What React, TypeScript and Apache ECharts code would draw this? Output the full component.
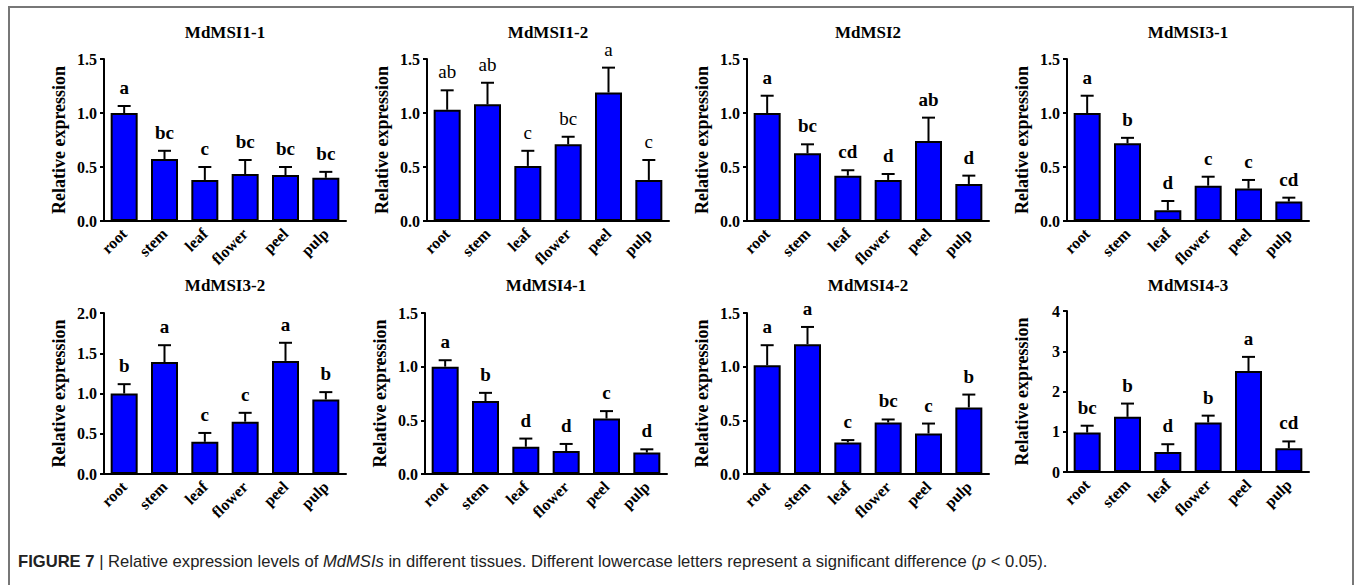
import React, { useEffect, useRef } from "react";
import * as echarts from "echarts";

const categories = ["root", "stem", "leaf", "flower", "peel", "pulp"];
const titles = ["MdMSI1-1", "MdMSI1-2", "MdMSI2", "MdMSI3-1", "MdMSI3-2", "MdMSI4-1", "MdMSI4-2", "MdMSI4-3"];

// mean values per panel
const msi11 = [1.0, 0.574, 0.38, 0.435, 0.426, 0.4];
const msi12 = [1.03, 1.08, 0.51, 0.71, 1.19, 0.38];
const msi2 = [1.0, 0.627, 0.42, 0.38, 0.74, 0.343];
const msi31 = [1.0, 0.72, 0.1, 0.327, 0.3, 0.18];
const msi32 = [1.0, 1.39, 0.4, 0.65, 1.405, 0.926];
const msi41 = [1.0, 0.68, 0.254, 0.214, 0.517, 0.2];
const msi42 = [1.013, 1.21, 0.294, 0.48, 0.378, 0.62];
const msi43 = [0.98, 1.37, 0.5, 1.23, 2.51, 0.59];

// upper error (SD) per panel
const msi11Err = [0.065, 0.076, 0.12, 0.13, 0.074, 0.055];
const msi12Err = [0.18, 0.2, 0.14, 0.07, 0.23, 0.185];
const msi2Err = [0.16, 0.083, 0.05, 0.055, 0.217, 0.077];
const msi31Err = [0.16, 0.05, 0.085, 0.083, 0.08, 0.036];
const msi32Err = [0.116, 0.21, 0.11, 0.11, 0.225, 0.091];
const msi41Err = [0.06, 0.076, 0.076, 0.066, 0.069, 0.03];
const msi42Err = [0.187, 0.16, 0.022, 0.028, 0.092, 0.12];
const msi43Err = [0.17, 0.33, 0.19, 0.17, 0.35, 0.17];

// significance letters
const msi11Letters = ["a", "bc", "c", "bc", "bc", "bc"];
const msi12Letters = ["ab", "ab", "c", "bc", "a", "c"];
const msi2Letters = ["a", "bc", "cd", "d", "ab", "d"];
const msi31Letters = ["a", "b", "d", "c", "c", "cd"];
const msi32Letters = ["b", "a", "c", "c", "a", "b"];
const msi41Letters = ["a", "b", "d", "d", "c", "d"];
const msi42Letters = ["a", "a", "c", "bc", "c", "b"];
const msi43Letters = ["bc", "b", "d", "b", "a", "cd"];

// y-axis ticks
const yMax = [1.5, 1.5, 1.5, 1.5, 2.0, 1.5, 1.5, 4];
const yInterval = [0.5, 0.5, 0.5, 0.5, 0.5, 0.5, 0.5, 1];

const means = [msi11, msi12, msi2, msi31, msi32, msi41, msi42, msi43];
const errs = [msi11Err, msi12Err, msi2Err, msi31Err, msi32Err, msi41Err, msi42Err, msi43Err];
const letters = [msi11Letters, msi12Letters, msi2Letters, msi31Letters, msi32Letters, msi41Letters, msi42Letters, msi43Letters];

const SERIF = "Liberation Serif";
const SANS = "Liberation Sans";

// layout
const gridLefts = [104, 427, 747, 1067, 104, 425, 747, 1067];
const gridTops = [59, 59, 59, 59, 313, 313, 313, 311];
const gridHeights = [162, 162, 162, 162, 161, 161, 161, 161];
const GRID_W = 242;

export default function App() {
  const ref = useRef<HTMLDivElement>(null);
  useEffect(() => {
    if (!ref.current) return;
    const chart = echarts.init(ref.current, null, { renderer: "svg" });
    const grids: any[] = [];
    const xAxes: any[] = [];
    const yAxes: any[] = [];
    const series: any[] = [];
    const graphics: any[] = [];

    for (let p = 0; p < 8; p++) {
      grids.push({ left: gridLefts[p], top: gridTops[p], width: GRID_W, height: gridHeights[p], containLabel: false });
      xAxes.push({
        type: "category",
        gridIndex: p,
        data: categories,
        axisLine: { lineStyle: { color: "#000", width: 2 } },
        axisTick: { alignWithLabel: true, length: 5, lineStyle: { color: "#000", width: 2 } },
        axisLabel: {
          rotate: 45,
          interval: 0,
          margin: 10,
          color: "#000",
          fontFamily: SERIF,
          fontWeight: "bold",
          fontSize: 16,
        },
      });
      const intv = yInterval[p];
      yAxes.push({
        type: "value",
        gridIndex: p,
        min: 0,
        max: yMax[p],
        interval: intv,
        splitLine: { show: false },
        axisLine: { show: true, lineStyle: { color: "#000", width: 2 } },
        axisTick: { show: true, length: 4, lineStyle: { color: "#000", width: 2 } },
        axisLabel: {
          margin: 7,
          color: "#000",
          fontFamily: SERIF,
          fontWeight: "bold",
          fontSize: 16,
          formatter: (v: number) => (intv >= 1 ? String(Math.round(v)) : v.toFixed(1)),
        },
        name: "Relative expression",
        nameLocation: "middle",
        nameGap: 36,
        nameTextStyle: { color: "#000", fontFamily: SERIF, fontWeight: "bold", fontSize: 18 },
      });
      series.push({
        type: "bar",
        xAxisIndex: p,
        yAxisIndex: p,
        data: means[p],
        barWidth: 27,
        itemStyle: { color: "#0000FF", borderColor: "#000", borderWidth: 2 },
        z: 2,
      });
      const lt = letters[p];
      const weight = p === 1 ? "normal" : "bold";
      series.push({
        type: "custom",
        xAxisIndex: p,
        yAxisIndex: p,
        z: 3,
        data: means[p].map((m, i) => [i, m, errs[p][i]]),
        encode: { x: 0, y: 1 },
        renderItem: (params: any, api: any) => {
          const i = api.value(0);
          const m = api.value(1);
          const s = api.value(2);
          const b = api.coord([i, m]);
          const t = api.coord([i, m + s]);
          const half = 6.5;
          return {
            type: "group",
            children: [
              { type: "line", shape: { x1: b[0], y1: b[1], x2: t[0], y2: t[1] }, style: { stroke: "#000", lineWidth: 2 } },
              { type: "line", shape: { x1: t[0] - half, y1: t[1], x2: t[0] + half, y2: t[1] }, style: { stroke: "#000", lineWidth: 2 } },
              {
                type: "text",
                x: t[0],
                y: t[1] - 9,
                style: {
                  text: lt[params.dataIndex],
                  fill: "#000",
                  fontFamily: SERIF,
                  fontWeight: weight,
                  fontSize: 19,
                  align: "center",
                  verticalAlign: "bottom",
                  textAlign: "center",
                  textVerticalAlign: "bottom",
                },
              },
            ],
          };
        },
      });
      graphics.push({
        type: "text",
        x: gridLefts[p] + GRID_W / 2,
        y: p < 4 ? 32 : 285,
        style: {
          text: titles[p],
          fill: "#000",
          fontFamily: SERIF,
          fontWeight: "bold",
          fontSize: 17,
          align: "center",
          verticalAlign: "middle",
          textAlign: "center",
          textVerticalAlign: "middle",
        },
      });
    }

    graphics.push({
      type: "rect",
      shape: { x: 9, y: 7, width: 1344, height: 600 },
      style: { fill: "none", stroke: "#777", lineWidth: 2 },
    });
    graphics.push({
      type: "text",
      x: 18,
      y: 561,
      style: {
        text: "{b|FIGURE 7} | Relative expression levels of {i|MdMSIs} in different tissues. Different lowercase letters represent a significant difference ({i|p} < 0.05).",
        fill: "#222",
        fontFamily: SANS,
        fontSize: 16.6,
        verticalAlign: "middle",
        textVerticalAlign: "middle",
        rich: {
          b: { fontWeight: "bold", fontFamily: SANS, fontSize: 16.6, fill: "#222" },
          i: { fontStyle: "italic", fontFamily: SANS, fontSize: 16.6, fill: "#222" },
        },
      },
    });

    chart.setOption({
      animation: false,
      backgroundColor: "#fff",
      grid: grids,
      xAxis: xAxes,
      yAxis: yAxes,
      series,
      graphic: graphics,
    });
    return () => chart.dispose();
  }, []);
  return <div ref={ref} style={{ position: "fixed", left: 0, top: 0, width: 1355, height: 585 }} />;
}
